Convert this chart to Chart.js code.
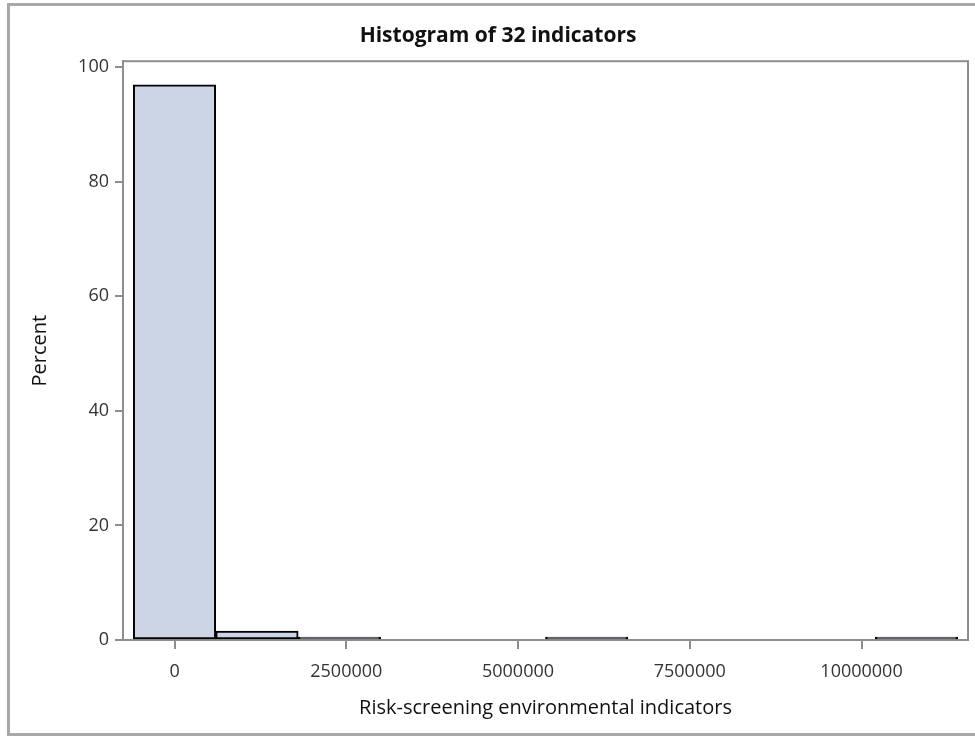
<!DOCTYPE html>
<html>
<head>
<meta charset="utf-8">
<script src="https://cdn.jsdelivr.net/npm/chart.js@4"></script>
<style>
    html, body { margin: 0; padding: 0; background: #fff; overflow: hidden; }
    #wrap { position: relative; width: 975px; height: 736px; }
    #frame { position: absolute; left: 7px; top: 3px; width: 1000px; height: 727px; border: 3px solid #a8a8a8; box-sizing: content-box; }
    canvas { position: absolute; left: 0; top: 0; }
</style>
</head>
<body>
<div id="wrap">
    <div id="frame"></div>
    <canvas id="hist" width="975" height="736"></canvas>
</div>
<script>
// Histogram data (bin midpoints and percent of observations)
const binCenters = [0, 1200000, 2400000, 6000000, 10800000];
const percents = [96.875, 1.5625, 0.52, 0.52, 0.52];

const xTicks = [0, 2500000, 5000000, 7500000, 10000000];
const yTicks = [0, 20, 40, 60, 80, 100];

const titleText = 'Histogram of 32 indicators';
const xTitle = 'Risk-screening environmental indicators';
const yTitle = 'Percent';

const axisGray = '#8e8e8e';

// box around the plot area, drawn under the bars
const plotFrame = {
    id: 'plotFrame',
    beforeDatasetsDraw(chart) {
        const { ctx, chartArea: a } = chart;
        ctx.save();
        ctx.strokeStyle = axisGray;
        ctx.lineWidth = 2;
        ctx.strokeRect(a.left, a.top, a.right - a.left, a.bottom - a.top);
        ctx.restore();
    }
};

Chart.defaults.font.family = '"Open Sans", "DejaVu Sans", sans-serif';
Chart.defaults.color = '#333';

new Chart(document.getElementById('hist').getContext('2d'), {
    type: 'bar',
    data: {
        datasets: [{
            data: binCenters.map((c, i) => ({ x: c, y: percents[i] })),
            backgroundColor: 'rgb(203, 213, 230)',
            borderColor: '#000',
            borderWidth: 2,
            borderSkipped: false,
            barPercentage: 1,
            categoryPercentage: 1
        }]
    },
    options: {
        responsive: false,
        animation: false,
        layout: { padding: { left: 28, right: 7, top: 0, bottom: 16 } },
        scales: {
            x: {
                type: 'linear',
                offset: false,
                min: -750000,
                max: 11550000,
                afterBuildTicks: s => { s.ticks = xTicks.map(v => ({ value: v })); },
                afterFit: s => { s.height = 80; },
                ticks: { font: { size: 18 }, padding: 12, maxRotation: 0, callback: v => String(v) },
                grid: { offset: false, drawOnChartArea: false, drawTicks: true, tickLength: 9, color: axisGray, lineWidth: 2 },
                border: { display: true, color: axisGray, width: 2 },
                title: { display: true, text: xTitle, color: '#111', font: { size: 20 }, padding: { top: 4, bottom: 0 } }
            },
            y: {
                min: 0,
                max: 101,
                afterBuildTicks: s => { s.ticks = yTicks.map(v => ({ value: v })); },
                afterFit: s => { s.width = 95; },
                ticks: { font: { size: 18 }, padding: 6 },
                grid: { drawOnChartArea: false, drawTicks: true, tickLength: 8, color: axisGray, lineWidth: 2 },
                border: { display: true, color: axisGray, width: 2 },
                title: { display: true, text: yTitle, color: '#111', font: { size: 20 }, padding: 0 }
            }
        },
        plugins: {
            legend: { display: false },
            tooltip: { enabled: false },
            title: {
                display: true,
                text: titleText,
                color: '#111',
                font: { size: 21, weight: 'bold' },
                padding: { top: 23, bottom: 13 }
            }
        }
    },
    plugins: [plotFrame]
});
</script>
</body>
</html>
